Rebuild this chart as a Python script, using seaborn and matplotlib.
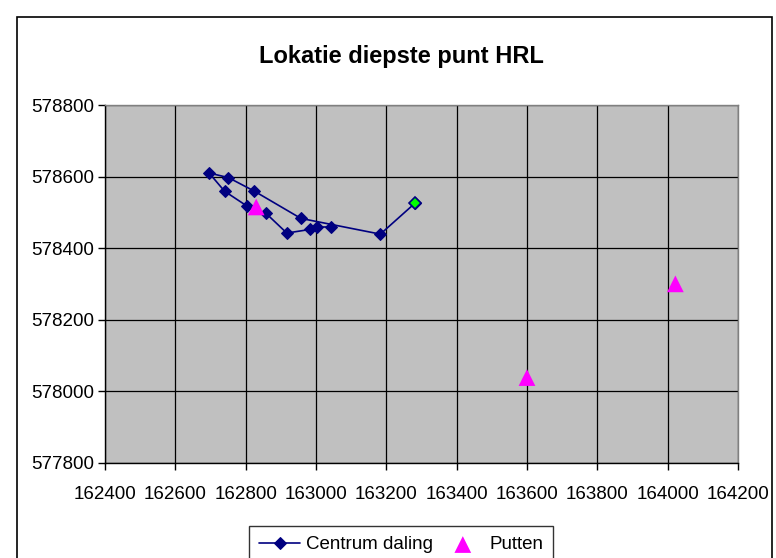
import matplotlib
matplotlib.use("Agg")
import matplotlib.pyplot as plt
from matplotlib.patches import Rectangle
import pandas as pd
import seaborn as sns

# centrum daling (volgorde van het pad, laatste punt groen)
centrum_x = [163042, 163003, 162982, 162917, 162858, 162803, 162740,
             162696, 162751, 162825, 162957, 163183, 163282]
centrum_y = [578459, 578459, 578452, 578442, 578497, 578518, 578559,
             578610, 578597, 578559, 578483, 578439, 578526]

# putten
putten_x = [162830, 163600, 164022]
putten_y = [578515, 578038, 578300]

x_ticks = list(range(162400, 164201, 200))
y_ticks = list(range(577800, 578801, 200))

df_c = pd.DataFrame({"x": centrum_x, "y": centrum_y})
df_p = pd.DataFrame({"x": putten_x, "y": putten_y})

sns.set_style("white")
plt.rcParams["font.family"] = ["Liberation Sans", "DejaVu Sans"]
plt.rcParams["text.color"] = "black"
plt.rcParams["xtick.color"] = "black"
plt.rcParams["ytick.color"] = "black"

fig = plt.figure(figsize=(7.76, 5.58), dpi=100)
ax = fig.add_axes([0.1353, 0.1708, 0.9510 - 0.1353, 0.8118 - 0.1708])
ax.set_facecolor("#C0C0C0")

navy = "#000080"
sns.lineplot(data=df_c, x="x", y="y", sort=False, estimator=None, ax=ax,
             color=navy, lw=1.2, marker="D", markersize=6.5,
             markeredgecolor=navy, markerfacecolor=navy,
             label="Centrum daling", zorder=3)
# laatste punt groen
ax.plot(centrum_x[-1], centrum_y[-1], marker="D", ms=6.5, mfc="#00FF00",
        mec=navy, mew=1.2, ls="none", zorder=4)
sns.scatterplot(data=df_p, x="x", y="y", ax=ax, marker="^", s=145,
                color="#FF00FF", edgecolor="none", label="Putten", zorder=5)

ax.set_xlim(162400, 164200)
ax.set_ylim(577800, 578800)
ax.set_xticks(x_ticks)
ax.set_yticks(y_ticks)
ax.grid(True, color="black", lw=0.9)
ax.set_axisbelow(True)
ax.tick_params(labelsize=13.5, length=5, width=1, direction="out",
               color="black", labelcolor="black", left=True, bottom=True,
               pad=3)
ax.tick_params(axis="x", pad=12)
ax.set_xlabel("")
ax.set_ylabel("")
for s in ["left", "bottom"]:
    ax.spines[s].set_color("black")
    ax.spines[s].set_linewidth(1)
for s in ["top", "right"]:
    ax.spines[s].set_color("#808080")
    ax.spines[s].set_linewidth(1)

fig.text(401 / 776, 1 - 56 / 558, "Lokatie diepste punt HRL", ha="center",
         va="center", fontsize=17, fontweight="bold", color="black")

handles, labels = ax.get_legend_handles_labels()
ax.get_legend().remove()
leg = fig.legend(handles, labels, loc="upper center",
                 bbox_to_anchor=(401 / 776, 1 - 526 / 558), ncol=2,
                 fontsize=13.5, frameon=True, fancybox=False,
                 edgecolor="black", handlelength=2.2, handletextpad=0.3,
                 columnspacing=0.5, borderpad=0.55, borderaxespad=0)
leg.get_frame().set_linewidth(1)

# rand om de hele figuur
fig.patches.append(Rectangle((17 / 776, -0.2), (772 - 17) / 776, 1.2 - 17 / 558,
                             transform=fig.transFigure, fill=False,
                             edgecolor="black", lw=1.2))

fig.savefig("out.png", dpi=100)
